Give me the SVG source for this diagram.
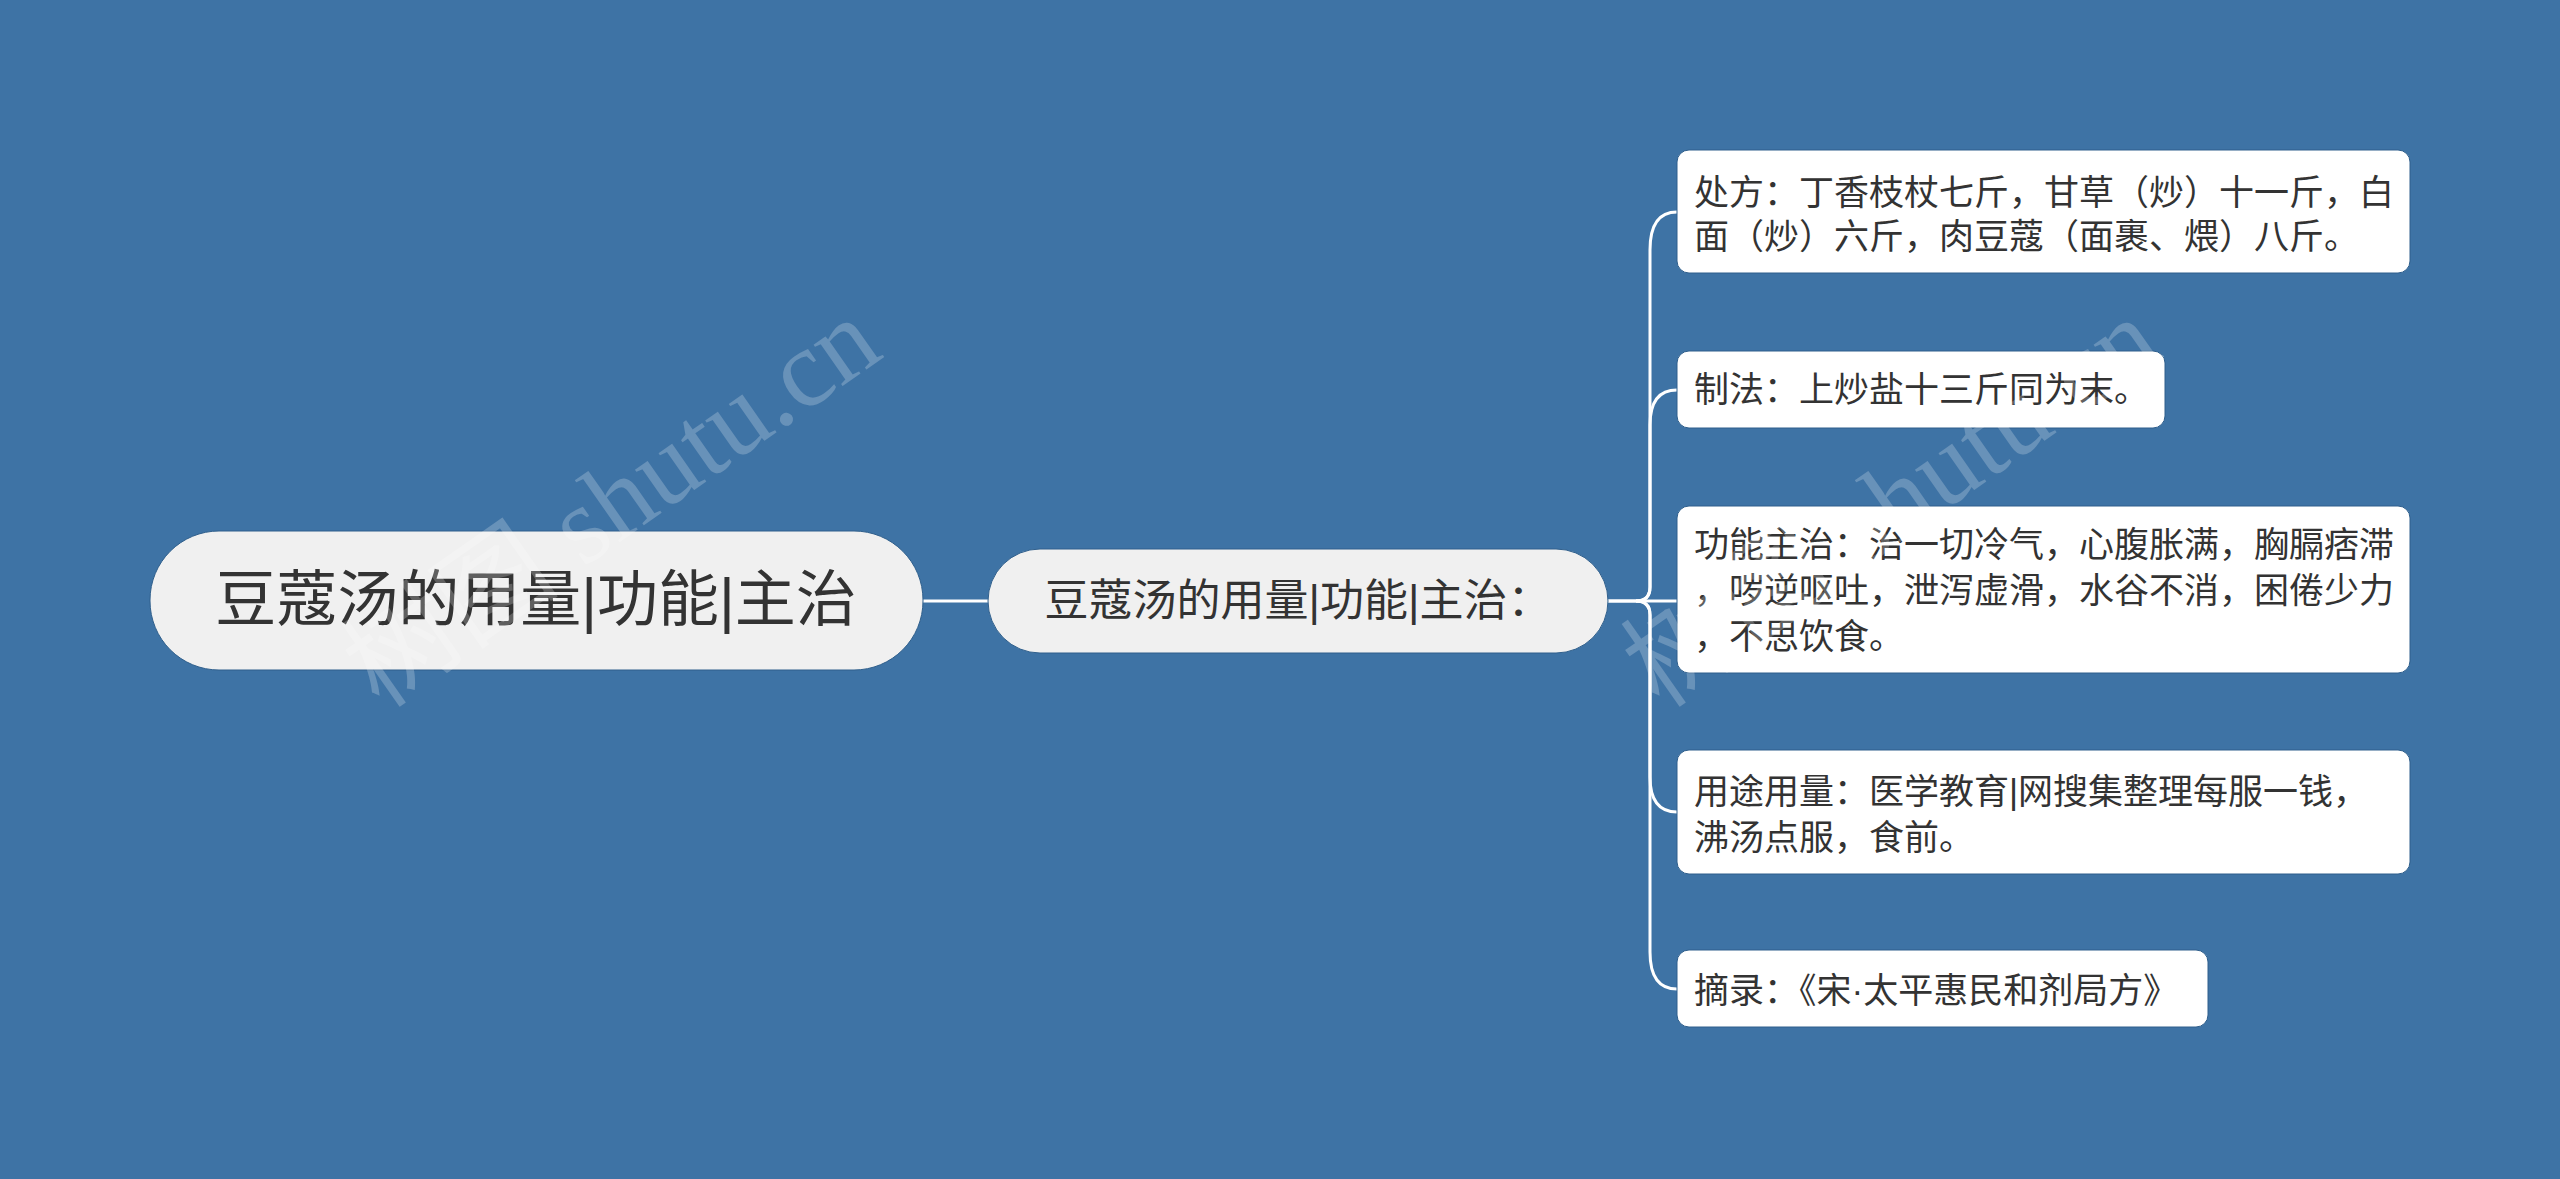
<svg xmlns="http://www.w3.org/2000/svg" width="2560" height="1179" viewBox="0 0 2560 1179">
<style>
text{font-family:"Liberation Sans","Noto Sans CJK SC",sans-serif;fill:#333}
.leaf{fill:#fff;stroke:#2f5f8c;stroke-width:1}
.pill{fill:#f0f0f0;stroke:#2f5f8c;stroke-width:1}
.t{font-size:35px}
.c{fill:none;stroke:#fff;stroke-width:3}
.wm{font-family:"Liberation Serif","Noto Sans CJK SC",serif;font-size:110px;fill:#fff;opacity:0.22}
</style>
<rect width="2560" height="1179" fill="#3e73a5"/>
<g id="connectors">
<path class="c" d="M923 601 H988"/>
<path class="c" d="M1608 601 H1636 Q1650 601 1650 587 V250 Q1650 212 1677 212"/>
<path class="c" d="M1636 601 Q1650 601 1650 587 V425 Q1650 390 1677 390"/>
<path class="c" d="M1608 601 H1677"/>
<path class="c" d="M1636 601 Q1650 601 1650 615 V777 Q1650 812 1677 812"/>
<path class="c" d="M1636 601 Q1650 601 1650 615 V952 Q1650 989 1677 989"/>
</g>
<g id="root"><rect class="pill" x="150" y="531" width="773" height="139" rx="69"/>
<text x="536" y="621" font-size="61" text-anchor="middle">豆蔻汤的用量|功能|主治</text></g>
<g id="main"><rect class="pill" x="988" y="549" width="620" height="104" rx="52"/>
<text x="1298" y="616" font-size="44" text-anchor="middle">豆蔻汤的用量|功能|主治：</text></g>
<g id="n1"><rect class="leaf" x="1677" y="150" width="733" height="123" rx="12"/>
<text class="t" x="1694" y="205">处方：丁香枝杖七斤，甘草（炒）十一斤，白</text>
<text class="t" x="1694" y="249">面（炒）六斤，肉豆蔻（面裹、煨）八斤。</text></g>
<g id="n2"><rect class="leaf" x="1677" y="351" width="488" height="77" rx="12"/>
<text class="t" x="1694" y="402">制法：上炒盐十三斤同为末。</text></g>
<g id="n3"><rect class="leaf" x="1677" y="506" width="733" height="167" rx="12"/>
<text class="t" x="1694" y="557">功能主治：治一切冷气，心腹胀满，胸膈痞滞</text>
<text class="t" x="1694" y="603">，哕逆呕吐，泄泻虚滑，水谷不消，困倦少力</text>
<text class="t" x="1694" y="649">，不思饮食。</text></g>
<g id="n4"><rect class="leaf" x="1677" y="750" width="733" height="124" rx="12"/>
<text class="t" x="1694" y="804">用途用量：医学教育|网搜集整理每服一钱，</text>
<text class="t" x="1694" y="850">沸汤点服，食前。</text></g>
<g id="n5"><rect class="leaf" x="1677" y="950" width="531" height="77" rx="12"/>
<text class="t" x="1694" y="1003">摘录：《宋·太平惠民和剂局方》</text></g>
<g id="watermark">
<text class="wm" transform="translate(380 710) rotate(-35)">树图 shutu.cn</text>
<text class="wm" transform="translate(1660 710) rotate(-35)">树图 shutu.cn</text>
</g>
</svg>
